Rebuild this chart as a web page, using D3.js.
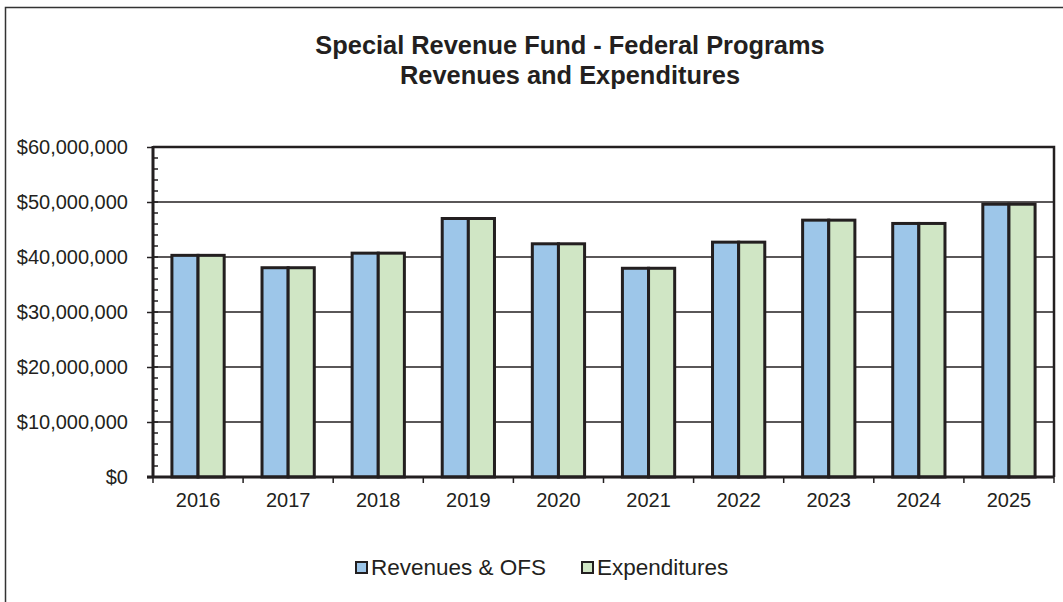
<!DOCTYPE html>
<html>
<head>
<meta charset="utf-8">
<script src="https://cdnjs.cloudflare.com/ajax/libs/d3/7.8.5/d3.min.js"></script>
<style>
body { margin: 0; background: #fff; }
svg { display: block; font-family: Arial, "Liberation Sans", sans-serif; }
.axisClass text { fill: #231f20; }
</style>
</head>
<body>
<div id="chart"></div>
<script>

// data
const years = ["2016", "2017", "2018", "2019", "2020", "2021", "2022", "2023", "2024", "2025"]
const revenues = [40300000, 38050000, 40700000, 47000000, 42400000, 37950000, 42700000, 46700000, 46100000, 49600000]
const expenditures = [40300000, 38050000, 40700000, 47000000, 42400000, 37950000, 42700000, 46700000, 46100000, 49600000]
const seriesNames = ["Revenues & OFS", "Expenditures"]
const seriesColors = ["#9dc6e9", "#d0e6c5"]
const yTicks = [0, 10000000, 20000000, 30000000, 40000000, 50000000, 60000000]
const titleLines = ["Special Revenue Fund - Federal Programs", "Revenues and Expenditures"]

const config = {
    top: 147,
    right: 1054,
    bottom: 477,
    left: 153,
}

const width = 1063
const height = 602
const ink = "#231f20"

const svg = d3.select('#chart').append('svg').attr("width", width).attr("height", height)

// outer frame (runs off the right / bottom edges)
svg.append('rect')
    .attr("x", 5.5).attr("y", 7.5)
    .attr("width", 1100).attr("height", 700)
    .attr("fill", "none").attr("stroke", "#333").attr("stroke-width", 1.5)

// title
svg.append('text')
    .attr("x", 570).attr("y", 54)
    .attr("text-anchor", "middle")
    .attr("font-size", "25.4px").attr("font-weight", "bold").attr("fill", ink)
    .selectAll('tspan')
    .data(titleLines)
    .enter()
    .append('tspan')
    .attr("x", 570)
    .attr("dy", (d, i) => i == 0 ? 0 : 30)
    .text(d => d)

const x0 = d3.scaleBand().domain(years).range([config.left, config.right]).paddingInner(0.42).paddingOuter(0.21)
const xCat = d3.scaleBand().domain(years).range([config.left, config.right])
const x1 = d3.scaleBand().domain(seriesNames).range([0, x0.bandwidth()])
const y = d3.scaleLinear().domain([0, 60000000]).range([config.bottom, config.top])

// gridlines
svg.append('g')
    .selectAll('line')
    .data(yTicks.slice(1, -1))
    .enter()
    .append('line')
    .attr("x1", config.left).attr("x2", config.right)
    .attr("y1", d => y(d)).attr("y2", d => y(d))
    .attr("stroke", ink).attr("stroke-width", 1.5)

// bars
const rows = years.map((yr, i) => ({ year: yr, values: [revenues[i], expenditures[i]] }))

svg.append('g')
    .selectAll('g')
    .data(rows)
    .enter()
    .append('g')
    .attr("transform", d => `translate(${x0(d.year)},0)`)
    .selectAll('rect')
    .data(d => d.values.map((v, i) => ({ name: seriesNames[i], value: v, color: seriesColors[i] })))
    .enter()
    .append('rect')
    .attr("x", d => x1(d.name))
    .attr("y", d => y(d.value))
    .attr("width", x1.bandwidth())
    .attr("height", d => y(0) - y(d.value))
    .attr("fill", d => d.color)
    .attr("stroke", ink)
    .attr("stroke-width", 3)

// plot frame top + right
svg.append('path')
    .attr("d", `M${config.left},${config.top}H${config.right}V${config.bottom}`)
    .attr("fill", "none").attr("stroke", ink).attr("stroke-width", 2.5)

// y axis: major ticks out, minor ticks in
const axisLeft = d3.axisLeft(y).tickValues(yTicks).tickSize(6).tickPadding(19)
    .tickFormat(d => "$" + d3.format(",")(d))

svg.append('g')
    .attr("transform", `translate(${config.left},0)`)
    .attr('class', "axisClass")
    .call(axisLeft)
    .call(g => g.select(".domain").remove())
    .call(g => g.selectAll("line").attr("stroke", ink).attr("stroke-width", 1.5))
    .call(g => g.selectAll("text").attr("font-size", "20px"))

svg.append('g')
    .selectAll('line')
    .data(d3.range(0, 60000001, 2000000))
    .enter()
    .append('line')
    .attr("x1", config.left).attr("x2", config.left + 5)
    .attr("y1", d => y(d)).attr("y2", d => y(d))
    .attr("stroke", ink).attr("stroke-width", 1.5)

svg.append('line')
    .attr("x1", config.left).attr("x2", config.left)
    .attr("y1", config.top - 1).attr("y2", config.bottom + 1)
    .attr("stroke", ink).attr("stroke-width", 3)

// x axis
const axisBottom = d3.axisBottom(x0).tickSize(0).tickPadding(16)

svg.append('g')
    .attr("transform", `translate(0,${config.bottom})`)
    .attr('class', "axisClass")
    .call(axisBottom)
    .call(g => g.select(".domain").remove())
    .call(g => g.selectAll("text").attr("font-size", "20px"))

svg.append('g')
    .selectAll('line')
    .data(years.map(d => xCat(d)).concat([config.right]))
    .enter()
    .append('line')
    .attr("x1", d => d).attr("x2", d => d)
    .attr("y1", config.bottom).attr("y2", config.bottom + 6)
    .attr("stroke", ink).attr("stroke-width", 1.5)

svg.append('line')
    .attr("x1", config.left - 6).attr("x2", config.right)
    .attr("y1", config.bottom).attr("y2", config.bottom)
    .attr("stroke", ink).attr("stroke-width", 3)

// legend
const legendX = [355, 581]
const legend = svg.append('g')
    .selectAll('g')
    .data(seriesNames)
    .enter()
    .append('g')
    .attr("transform", (d, i) => `translate(${legendX[i]},561)`)

legend.append('rect')
    .attr("x", 1).attr("y", 1).attr("width", 11).attr("height", 11)
    .attr("fill", (d, i) => seriesColors[i])
    .attr("stroke", ink).attr("stroke-width", 2)

legend.append('text')
    .attr("x", 16).attr("y", 6.5)
    .attr("dominant-baseline", "central")
    .attr("font-size", "22.5px").attr("fill", ink)
    .text(d => d)

</script>
</body>
</html>
